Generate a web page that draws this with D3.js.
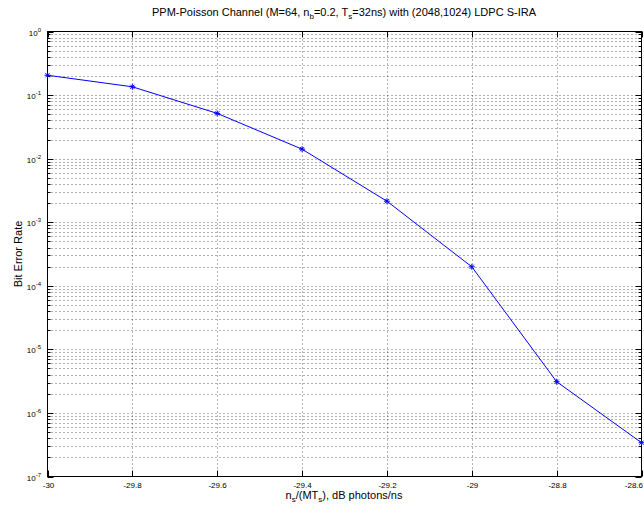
<!DOCTYPE html>
<html>
<head>
<meta charset="utf-8">
<script src="https://cdn.jsdelivr.net/npm/d3@7"></script>
<style>
  body { margin: 0; background: #fff; }
  svg { display: block; }
  text { font-family: "Liberation Sans", Arial, sans-serif; fill: #000; }
</style>
</head>
<body>
<div id="chart"></div>
<script>
//data
const snr = [-30, -29.8, -29.6, -29.4, -29.2, -29, -28.8, -28.6];
const ber = [0.205, 0.135, 0.0515, 0.0141, 0.00214, 1.99e-4, 3.1e-6, 3.4e-7];
const xTicks = [-30, -29.8, -29.6, -29.4, -29.2, -29, -28.8, -28.6];
const xTickLabels = ['-30', '-29.8', '-29.6', '-29.4', '-29.2', '-29', '-28.8', '-28.6'];
const yExponents = [0, -1, -2, -3, -4, -5, -6, -7];

//Measures
const width = 644;
const height = 506;
const plotLeft = 47.5, plotRight = 641.5, plotTop = 31.5, plotBottom = 476.5;

//Colors
const lineColor = '#0000ff';
const gridColor = '#000000';

const svg = d3.select('#chart').append('svg')
    .attr('width', width)
    .attr('height', height);

const x = d3.scaleLinear().domain([-30, -28.6]).range([plotLeft, plotRight]);
const y = d3.scaleLog().domain([1e-7, 1]).range([plotBottom, plotTop]);

drawGrid();
drawAxes();
drawLine();
drawLabels();

//dotted grid, major and minor
function drawGrid() {
    const g = svg.append('g');
    const minor = [];
    yExponents.forEach(e => {
        if (e > -7) {
            for (let k = 1; k < 10; k++) minor.push(k * Math.pow(10, e - 1));
        }
    });
    minor.forEach(v => {
        if (v <= 1e-7 || v >= 1) return;
        g.append('line')
            .attr('x1', plotLeft).attr('x2', plotRight)
            .attr('y1', Math.round(y(v)) + 0.5).attr('y2', Math.round(y(v)) + 0.5)
            .attr('stroke', gridColor)
            .attr('stroke-width', 1)
            .attr('stroke-dasharray', '1,3')
            .attr('opacity', 0.6);
    });
    xTicks.slice(1, -1).forEach(v => {
        g.append('line')
            .attr('x1', Math.round(x(v)) + 0.5).attr('x2', Math.round(x(v)) + 0.5)
            .attr('y1', plotTop).attr('y2', plotBottom)
            .attr('stroke', gridColor)
            .attr('stroke-width', 1)
            .attr('stroke-dasharray', '1,3')
            .attr('opacity', 0.6);
    });
}

//box with inner ticks on all sides
function drawAxes() {
    const g = svg.append('g');
    g.append('rect')
        .attr('x', plotLeft).attr('y', plotTop)
        .attr('width', plotRight - plotLeft).attr('height', plotBottom - plotTop)
        .attr('fill', 'none')
        .attr('stroke', '#000');

    //y ticks
    yExponents.forEach(e => {
        const v = Math.pow(10, e);
        const yy = Math.round(y(v)) + 0.5;
        g.append('line').attr('x1', plotLeft).attr('x2', plotLeft + 6).attr('y1', yy).attr('y2', yy).attr('stroke', '#000');
        g.append('line').attr('x1', plotRight - 6).attr('x2', plotRight).attr('y1', yy).attr('y2', yy).attr('stroke', '#000');
        const t = g.append('text')
            .attr('x', 41)
            .attr('y', yy + 3)
            .attr('text-anchor', 'end')
            .style('font-size', '8px');
        t.append('tspan').text('10');
        t.append('tspan').text(e).attr('dy', -4).style('font-size', '6px');
        if (e > -7) {
            for (let k = 2; k < 10; k++) {
                const ym = Math.round(y(k * Math.pow(10, e - 1))) + 0.5;
                g.append('line').attr('x1', plotLeft).attr('x2', plotLeft + 3).attr('y1', ym).attr('y2', ym).attr('stroke', '#000');
                g.append('line').attr('x1', plotRight - 3).attr('x2', plotRight).attr('y1', ym).attr('y2', ym).attr('stroke', '#000');
            }
        }
    });

    //x ticks
    xTicks.forEach((v, i) => {
        const xx = Math.round(x(v)) + 0.5;
        const last = i === xTicks.length - 1;
        g.append('line').attr('x1', xx).attr('x2', xx).attr('y1', plotBottom).attr('y2', plotBottom - 6).attr('stroke', '#000');
        g.append('line').attr('x1', xx).attr('x2', xx).attr('y1', plotTop).attr('y2', plotTop + 6).attr('stroke', '#000');
        g.append('text')
            .text(xTickLabels[i])
            .attr('x', last ? width - 1 : xx)
            .attr('y', 488)
            .attr('text-anchor', last ? 'end' : 'middle')
            .style('font-size', '8px');
    });
}

//BER curve with asterisk markers
function drawLine() {
    const pts = snr.map((s, i) => [x(s), y(ber[i])]);
    svg.append('path')
        .attr('d', d3.line()(pts))
        .attr('fill', 'none')
        .attr('stroke', lineColor)
        .attr('stroke-width', 1);
    const star = svg.append('g');
    pts.forEach(p => {
        const r = 3;
        [[r, 0], [0, r], [r * 0.7, r * 0.7], [r * 0.7, -r * 0.7]].forEach(d => {
            star.append('line')
                .attr('x1', p[0] - d[0]).attr('y1', p[1] - d[1])
                .attr('x2', p[0] + d[0]).attr('y2', p[1] + d[1])
                .attr('stroke', lineColor)
                .attr('stroke-width', 1);
        });
    });
}

//title and axis labels
function drawLabels() {
    const title = svg.append('text')
        .attr('x', 344)
        .attr('y', 16)
        .attr('text-anchor', 'middle')
        .style('font-size', '11px');
    title.append('tspan').text('PPM-Poisson Channel (M=64, n');
    title.append('tspan').text('b').attr('dy', 3).style('font-size', '8px');
    title.append('tspan').text('=0.2, T').attr('dy', -3);
    title.append('tspan').text('s').attr('dy', 3).style('font-size', '8px');
    title.append('tspan').text('=32ns) with (2048,1024) LDPC S-IRA').attr('dy', -3);

    svg.append('text')
        .text('Bit Error Rate')
        .attr('transform', 'translate(22,254) rotate(-90)')
        .attr('text-anchor', 'middle')
        .style('font-size', '11px');

    const xl = svg.append('text')
        .attr('x', 344)
        .attr('y', 499)
        .attr('text-anchor', 'middle')
        .style('font-size', '11px');
    xl.append('tspan').text('n');
    xl.append('tspan').text('s').attr('dy', 3).style('font-size', '8px');
    xl.append('tspan').text('/(MT').attr('dy', -3);
    xl.append('tspan').text('s').attr('dy', 3).style('font-size', '8px');
    xl.append('tspan').text('), dB photons/ns').attr('dy', -3);
}
</script>
</body>
</html>
